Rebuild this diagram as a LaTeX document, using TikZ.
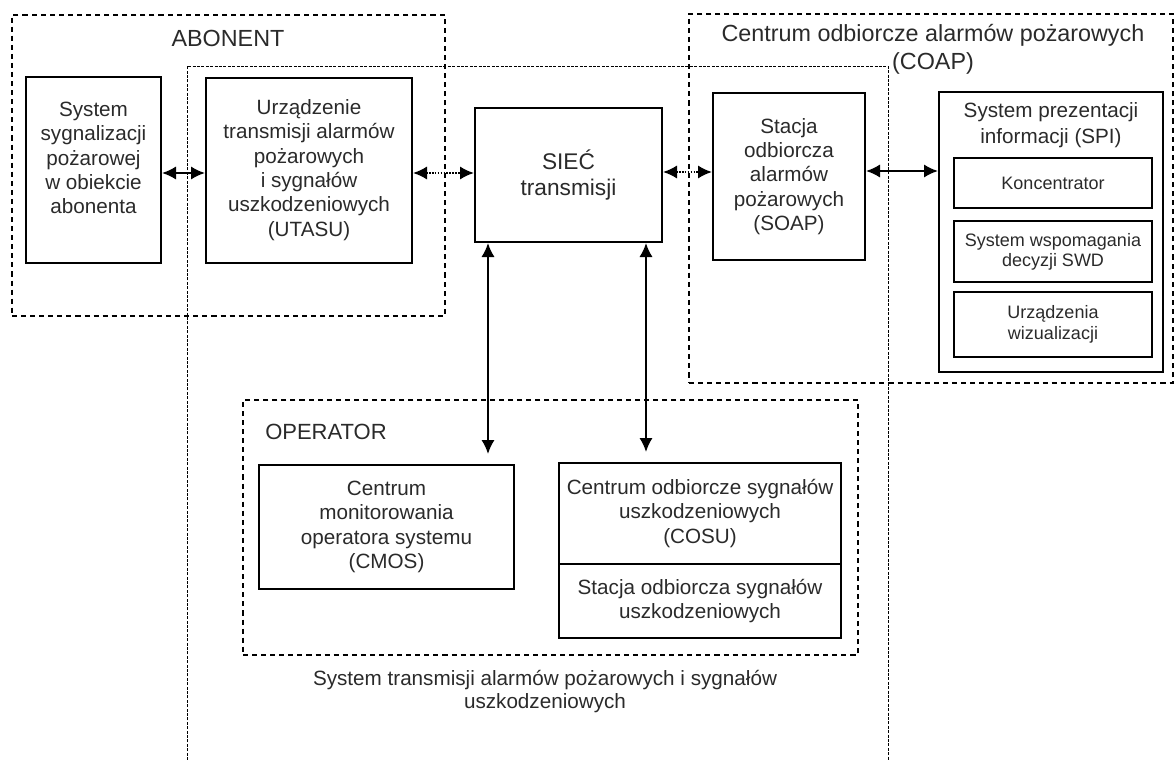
\documentclass[tikz,border=0pt]{standalone}
\usepackage{fontspec}
\setmainfont{Liberation Sans}
\usetikzlibrary{arrows.meta,fit}
\definecolor{txt}{HTML}{2A2A2A}
\begin{document}
\begin{tikzpicture}[x=0.75pt,y=-0.75pt,
  sz/.style 2 args={minimum width=#1*0.75pt, minimum height=#2*0.75pt},
  box/.style={draw=black, line width=1.5pt, inner sep=0pt, align=center, text=txt,
    font=\fontsize{15.5}{18.3}\selectfont},
  grp/.style={draw=black, line width=1.1pt, dash pattern=on 3.8pt off 3pt, inner sep=0pt},
  fine/.style={draw=black, line width=0.6pt, dash pattern=on 2.2pt off 1.1pt},
  ttl/.style={text=txt, align=center, font=\fontsize{17.5}{21}\selectfont},
  plain/.style={text=txt, align=center, font=\fontsize{15.5}{18.3}\selectfont},
  arr/.style={{Latex[length=10.5pt,width=10pt]}-{Latex[length=10.5pt,width=10pt]}, line width=1.6pt},
  arrdot/.style={arr, dash pattern=on 1.3pt off 0.9pt}
]
\useasboundingbox (0,0) rectangle (1175,760);

% group frames
\node[grp, fit={(12,15) (445,316)}] (abonent) {};
\node[grp, fit={(689,14) (1173,383)}] (coap) {};
\node[grp, fit={(243,400) (858,655)}] (operator) {};
\draw[fine] (187,760) -- (187,66) -- (888,66) -- (888,760);

% titles
\node[ttl] (abt) at (228,38) {ABONENT};
\node[ttl] (coapt) at (933,49) {Centrum odbiorcze alarmów pożarowych\\(COAP)};
\node[ttl, anchor=west, inner sep=0pt, font=\fontsize{16.5}{20}\selectfont] (opt) at (265,432) {OPERATOR};
\node[plain, font=\fontsize{15.5}{17.3}\selectfont] (cap) at (545,691.5) {System transmisji alarmów pożarowych i sygnałów\\uszkodzeniowych};

% boxes
\node[box, sz={135}{186}, label={[name=syst, plain, yshift=9pt]center:System\\sygnalizacji\\pożarowej\\w obiekcie\\abonenta}] (sys) at (93.5,170) {};
\node[box, sz={206}{185}] (utasu) at (309,170) {Urządzenie\\transmisji alarmów\\pożarowych\\i sygnałów\\uszkodzeniowych\\(UTASU)};
\node[box, sz={187}{134}, font=\fontsize{17}{20}\selectfont] (siec) at (568.5,175) {SIEĆ\\transmisji};
\node[box, sz={152}{167}] (soap) at (789,176.5) {Stacja\\odbiorcza\\alarmów\\pożarowych\\(SOAP)};
\node[box, sz={224}{280}] (spi) at (1051,232) {};
\node[plain, font=\fontsize{15.5}{19}\selectfont] (spit) at (1051,125) {System prezentacji\\informacji (SPI)};
\node[box, sz={198}{50}, font=\fontsize{13.5}{15}\selectfont] (konc) at (1053,183) {Koncentrator};
\node[box, sz={198}{61}, font=\fontsize{13.5}{15}\selectfont] (swd) at (1053,251.5) {System wspomagania\\decyzji SWD};
\node[box, sz={198}{65}, font=\fontsize{13.5}{15.5}\selectfont] (wiz) at (1053,324.5) {Urządzenia\\wizualizacji};
\node[box, sz={255}{124}] (cmos) at (386.5,527) {Centrum\\monitorowania\\operatora systemu\\(CMOS)};
\node[box, sz={282}{101}] (cosu) at (700,513.5) {Centrum odbiorcze sygnałów\\uszkodzeniowych\\(COSU)};
\node[box, sz={282}{74}] (sosu) at (700,601) {Stacja odbiorcza sygnałów\\uszkodzeniowych};

% connectors
\coordinate (ya) at (0,173);
\coordinate (yb) at (0,172);
\coordinate (yc) at (0,171);
\coordinate (v1) at (488,0);
\coordinate (v2) at (646,0);
\draw[arr] (sys.east |- ya) -- (utasu.west |- ya);
\draw[arrdot] (utasu.east |- ya) -- (siec.west |- ya);
\draw[arrdot] (siec.east |- yb) -- (soap.west |- yb);
\draw[arr] (soap.east |- yc) -- (spi.west |- yc);
\draw[arr, shorten >=7.5pt] (siec.south -| v1) -- (cmos.north -| v1);
\draw[arr, shorten >=7.5pt] (siec.south -| v2) -- (cosu.north -| v2);
\end{tikzpicture}
\end{document}
